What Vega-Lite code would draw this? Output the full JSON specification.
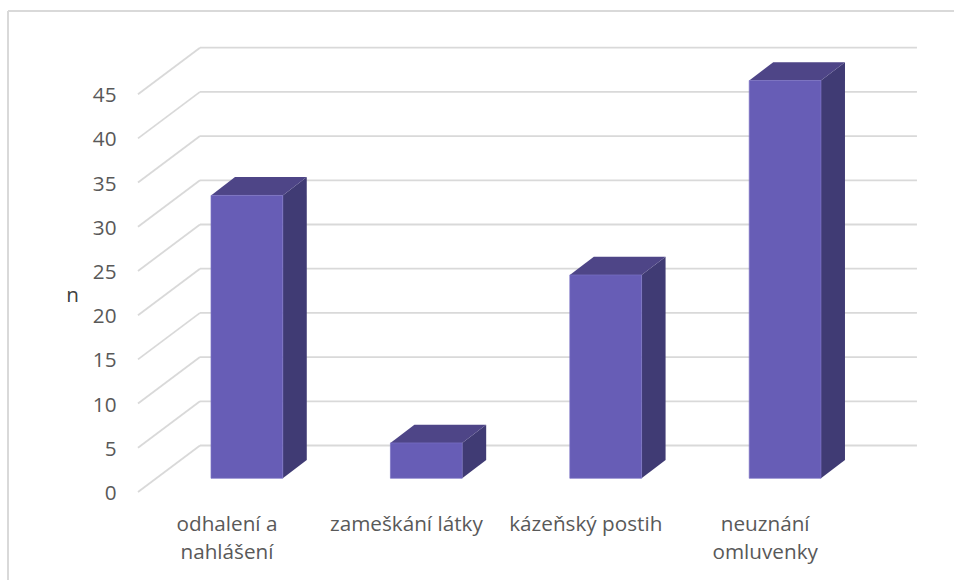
{
  "$schema": "https://vega.github.io/schema/vega-lite/v6.json",
  "width": 946,
  "height": 569,
  "padding": {"left": 8, "top": 11, "right": 0, "bottom": 0},
  "autosize": "none",
  "background": "white",
  "view": {"stroke": null, "fill": "white"},
  "data": {"values": [
    {"kategorie": "odhalení a\nnahlášení", "n": 32},
    {"kategorie": "zameškání látky", "n": 4},
    {"kategorie": "kázeňský postih", "n": 23},
    {"kategorie": "neuznání\nomluvenky", "n": 45}
  ]},
  "transform": [
    {"window": [{"op": "row_number", "as": "rn"}]},
    {"calculate": "datum.rn - 1", "as": "i"},
    {"calculate": "datum.i + 0.407", "as": "L"},
    {"calculate": "datum.L + 0.4", "as": "R"},
    {"calculate": "datum.n + 1.55", "as": "T"}
  ],
  "layer": [
    {
      "mark": {"type": "rule", "color": "#d9d9d9", "strokeWidth": 1.5},
      "encoding": {
        "x": {"datum": -0.7246, "type": "quantitative", "scale": {"domain": [-0.7246, 4.5485], "nice": false, "zero": false}, "axis": null}
      }
    },
    {
      "mark": {"type": "rule", "color": "#d9d9d9", "strokeWidth": 1.5},
      "encoding": {
        "y": {"datum": 54.41, "type": "quantitative", "scale": {"domain": [-9.955, 54.41], "nice": false, "zero": false},
          "axis": {"values": [0, 5, 10, 15, 20, 25, 30, 35, 40, 45], "offset": -108, "domain": false, "ticks": false, "grid": false, "labelPadding": 0, "labelOffset": 1.5, "labelFont": "Open Sans", "labelFontSize": 20.7, "labelColor": "#595959", "title": "n", "titleFont": "Open Sans", "titleFontSize": 20.7, "titleFontWeight": "normal", "titleColor": "#404040", "titleAngle": 0, "titleX": -44, "titleY": 284, "titleAlign": "center", "titleBaseline": "middle"}}
      }
    },
    {
      "data": {"values": [{"t": 0}, {"t": 5}, {"t": 10}, {"t": 15}, {"t": 20}, {"t": 25}, {"t": 30}, {"t": 35}, {"t": 40}, {"t": 45}]},
      "transform": [{"calculate": "0", "as": "a"}, {"calculate": "0.3456", "as": "b"}, {"calculate": "datum.t + 5.26", "as": "tb"}],
      "mark": {"type": "rule", "color": "#d9d9d9", "strokeWidth": 1.8},
      "encoding": {
        "x": {"field": "a", "type": "quantitative", "scale": {"domain": [-0.7246, 4.5485], "nice": false, "zero": false}, "axis": null},
        "x2": {"field": "b"},
        "y": {"field": "t", "type": "quantitative", "scale": {"domain": [-9.955, 54.41], "nice": false, "zero": false},
          "axis": {"values": [0, 5, 10, 15, 20, 25, 30, 35, 40, 45], "offset": -108, "domain": false, "ticks": false, "grid": false, "labelPadding": 0, "labelOffset": 1.5, "labelFont": "Open Sans", "labelFontSize": 20.7, "labelColor": "#595959", "title": "n", "titleFont": "Open Sans", "titleFontSize": 20.7, "titleFontWeight": "normal", "titleColor": "#404040", "titleAngle": 0, "titleX": -44, "titleY": 284, "titleAlign": "center", "titleBaseline": "middle"}},
        "y2": {"field": "tb"}
      }
    },
    {
      "data": {"values": [{"t": 0}, {"t": 5}, {"t": 10}, {"t": 15}, {"t": 20}, {"t": 25}, {"t": 30}, {"t": 35}, {"t": 40}, {"t": 45}]},
      "transform": [{"calculate": "0.3456", "as": "a"}, {"calculate": "4.342", "as": "b"}, {"calculate": "datum.t + 5.26", "as": "tb"}],
      "mark": {"type": "rule", "color": "#d9d9d9", "strokeWidth": 1.8},
      "encoding": {
        "x": {"field": "a", "type": "quantitative", "scale": {"domain": [-0.7246, 4.5485], "nice": false, "zero": false}, "axis": null},
        "x2": {"field": "b"},
        "y": {"field": "tb", "type": "quantitative", "scale": {"domain": [-9.955, 54.41], "nice": false, "zero": false},
          "axis": {"values": [0, 5, 10, 15, 20, 25, 30, 35, 40, 45], "offset": -108, "domain": false, "ticks": false, "grid": false, "labelPadding": 0, "labelOffset": 1.5, "labelFont": "Open Sans", "labelFontSize": 20.7, "labelColor": "#595959", "title": "n", "titleFont": "Open Sans", "titleFontSize": 20.7, "titleFontWeight": "normal", "titleColor": "#404040", "titleAngle": 0, "titleX": -44, "titleY": 284, "titleAlign": "center", "titleBaseline": "middle"}}
      }
    },
    {
      "transform": [
        {"calculate": "[0, 1]", "as": "k"},
        {"flatten": ["k"]},
        {"calculate": "datum.R + datum.k * 0.1338", "as": "px"},
        {"calculate": "1.55 + datum.k * 2.07", "as": "lo"},
        {"calculate": "datum.T + datum.k * 2.07", "as": "hi"}
      ],
      "mark": {"type": "area", "orient": "vertical", "color": "#403b74", "opacity": 1},
      "encoding": {
        "x": {"field": "px", "type": "quantitative", "scale": {"domain": [-0.7246, 4.5485], "nice": false, "zero": false}, "axis": null},
        "y": {"field": "lo", "type": "quantitative", "stack": null, "scale": {"domain": [-9.955, 54.41], "nice": false, "zero": false},
          "axis": {"values": [0, 5, 10, 15, 20, 25, 30, 35, 40, 45], "offset": -108, "domain": false, "ticks": false, "grid": false, "labelPadding": 0, "labelOffset": 1.5, "labelFont": "Open Sans", "labelFontSize": 20.7, "labelColor": "#595959", "title": "n", "titleFont": "Open Sans", "titleFontSize": 20.7, "titleFontWeight": "normal", "titleColor": "#404040", "titleAngle": 0, "titleX": -44, "titleY": 284, "titleAlign": "center", "titleBaseline": "middle"}},
        "y2": {"field": "hi"},
        "detail": {"field": "kategorie"}
      }
    },
    {
      "transform": [
        {"calculate": "[0, 1, 2, 3]", "as": "k"},
        {"flatten": ["k"]},
        {"calculate": "datum.L + (datum.k == 0 ? 0 : datum.k == 1 ? 0.1338 : datum.k == 2 ? 0.4 : 0.5338)", "as": "px"},
        {"calculate": "datum.T + (datum.k == 3 ? 2.07 : 0)", "as": "lo"},
        {"calculate": "datum.T + (datum.k == 0 ? 0 : 2.07)", "as": "hi"}
      ],
      "mark": {"type": "area", "orient": "vertical", "color": "#4e4587", "opacity": 1},
      "encoding": {
        "x": {"field": "px", "type": "quantitative", "scale": {"domain": [-0.7246, 4.5485], "nice": false, "zero": false}, "axis": null},
        "y": {"field": "lo", "type": "quantitative", "stack": null, "scale": {"domain": [-9.955, 54.41], "nice": false, "zero": false},
          "axis": {"values": [0, 5, 10, 15, 20, 25, 30, 35, 40, 45], "offset": -108, "domain": false, "ticks": false, "grid": false, "labelPadding": 0, "labelOffset": 1.5, "labelFont": "Open Sans", "labelFontSize": 20.7, "labelColor": "#595959", "title": "n", "titleFont": "Open Sans", "titleFontSize": 20.7, "titleFontWeight": "normal", "titleColor": "#404040", "titleAngle": 0, "titleX": -44, "titleY": 284, "titleAlign": "center", "titleBaseline": "middle"}},
        "y2": {"field": "hi"},
        "detail": {"field": "kategorie"}
      }
    },
    {
      "transform": [{"calculate": "1.55", "as": "B"}],
      "mark": {"type": "rect", "color": "#675db6", "stroke": "#7a71c4", "strokeWidth": 0.7},
      "encoding": {
        "x": {"field": "L", "type": "quantitative", "scale": {"domain": [-0.7246, 4.5485], "nice": false, "zero": false}, "axis": null},
        "x2": {"field": "R"},
        "y": {"field": "B", "type": "quantitative", "scale": {"domain": [-9.955, 54.41], "nice": false, "zero": false},
          "axis": {"values": [0, 5, 10, 15, 20, 25, 30, 35, 40, 45], "offset": -108, "domain": false, "ticks": false, "grid": false, "labelPadding": 0, "labelOffset": 1.5, "labelFont": "Open Sans", "labelFontSize": 20.7, "labelColor": "#595959", "title": "n", "titleFont": "Open Sans", "titleFontSize": 20.7, "titleFontWeight": "normal", "titleColor": "#404040", "titleAngle": 0, "titleX": -44, "titleY": 284, "titleAlign": "center", "titleBaseline": "middle"}},
        "y2": {"field": "T"}
      }
    },
    {
      "transform": [{"calculate": "datum.i + 0.496", "as": "c"}, {"calculate": "-4.42", "as": "v"}],
      "mark": {"type": "text", "font": "Open Sans", "fontSize": 20.7, "color": "#595959", "align": "center", "baseline": "alphabetic", "lineBreak": "\n", "lineHeight": 28},
      "encoding": {
        "x": {"field": "c", "type": "quantitative", "scale": {"domain": [-0.7246, 4.5485], "nice": false, "zero": false}, "axis": null},
        "y": {"field": "v", "type": "quantitative", "scale": {"domain": [-9.955, 54.41], "nice": false, "zero": false},
          "axis": {"values": [0, 5, 10, 15, 20, 25, 30, 35, 40, 45], "offset": -108, "domain": false, "ticks": false, "grid": false, "labelPadding": 0, "labelOffset": 1.5, "labelFont": "Open Sans", "labelFontSize": 20.7, "labelColor": "#595959", "title": "n", "titleFont": "Open Sans", "titleFontSize": 20.7, "titleFontWeight": "normal", "titleColor": "#404040", "titleAngle": 0, "titleX": -44, "titleY": 284, "titleAlign": "center", "titleBaseline": "middle"}},
        "text": {"field": "kategorie"}
      }
    }
  ]
}
